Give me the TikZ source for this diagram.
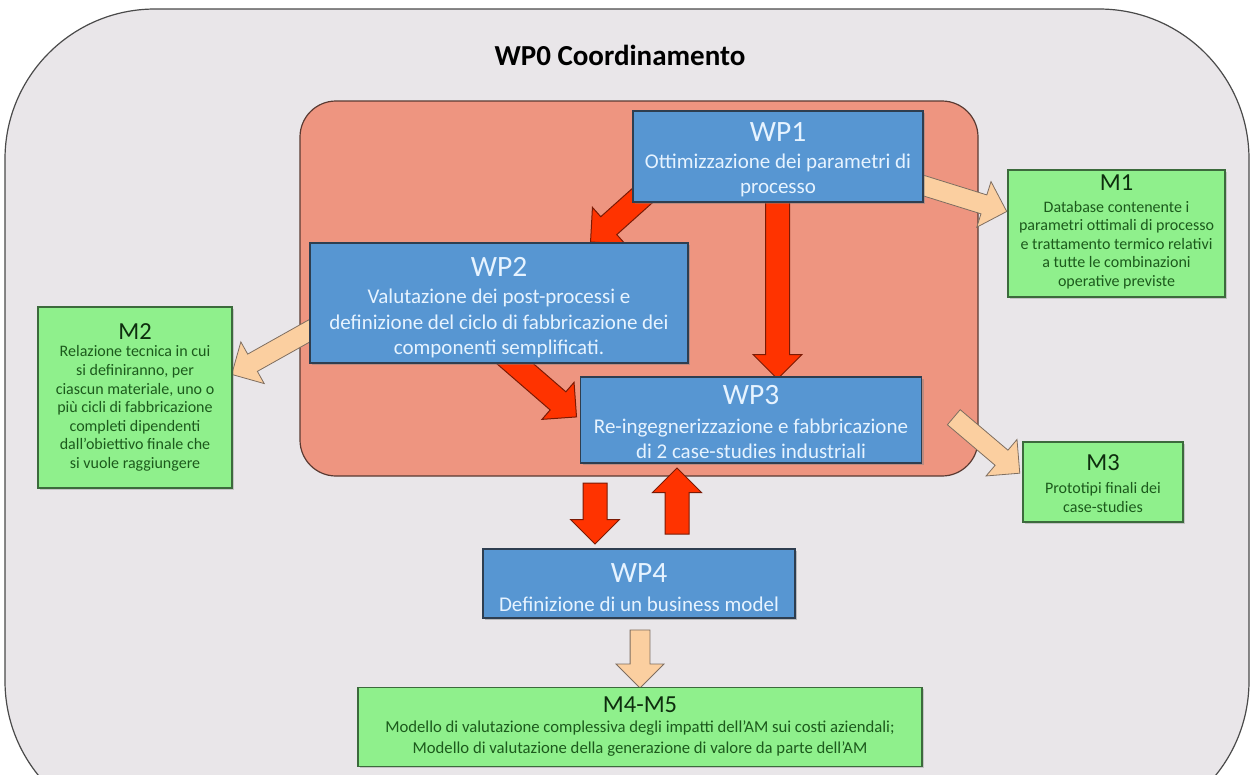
\documentclass[tikz,border=0pt]{standalone}
\usepackage{fontspec}
\setmainfont{Carlito}
\usetikzlibrary{shapes.arrows,shadows,calc}
\definecolor{bggray}{HTML}{E9E6E9}
\definecolor{bgborder}{HTML}{4A4A4A}
\definecolor{salmon}{HTML}{EE9580}
\definecolor{salmonb}{HTML}{5A3A32}
\definecolor{wpblue}{HTML}{5796D2}
\definecolor{wplight}{HTML}{86B6E4}
\definecolor{wpborder}{HTML}{2E3E50}
\definecolor{wptext}{HTML}{E6F3FF}
\definecolor{mgreen}{HTML}{8FF08C}
\definecolor{mborder}{HTML}{3C6A3C}
\definecolor{mtext}{HTML}{1C5A1C}
\definecolor{mtitle}{HTML}{0E2E0E}
\definecolor{redarr}{HTML}{FF3300}
\definecolor{redarrb}{HTML}{7A1A05}
\definecolor{peach}{HTML}{FBCFA0}
\definecolor{peachb}{HTML}{7E6E60}
\pgfdeclareverticalshading{wpshade}{100bp}{color(0bp)=(wpblue); color(78bp)=(wpblue); color(94bp)=(wplight); color(100bp)=(wplight)}
\newcommand\blockarrow[4]{%
  \path let \p1=(#2), \p2=(#3),
    \n1={atan2(\y2-\y1,\x2-\x1)}, \n2={veclen(\x2-\x1,\y2-\y1)} in
    node[#1, minimum height=\n2, rotate=\n1] (#4) at ({(\x1+\x2)/2},{(\y1+\y2)/2}) {};}
\tikzset{
  wpbox/.style={draw=wpborder, line width=1.2pt, shading=wpshade,
    drop shadow={shadow xshift=2pt, shadow yshift=-2pt, opacity=0.45}, inner sep=0pt, outer sep=0pt},
  mbox/.style={draw=mborder, line width=1.2pt, fill=mgreen,
    drop shadow={shadow xshift=1.5pt, shadow yshift=-1.5pt, opacity=0.35}, inner sep=0pt, outer sep=0pt},
  wptitle/.style={text=wptext, font=\fontsize{29.5}{32}\selectfont, inner sep=0pt},
  wpbody/.style={text=wptext, font=\fontsize{21}{25.5}\selectfont, align=center, inner sep=0pt},
  mtitlestyle/.style={text=mtitle, font=\fontsize{24.5}{27}\selectfont, inner sep=0pt},
  mbody/.style={text=mtext, font=\fontsize{16}{18.6}\selectfont, align=center, inner sep=0pt},
  redarrow/.style={single arrow, draw=redarrb, fill=redarr, line width=1pt, inner sep=0pt,
    inner ysep=11.5pt, single arrow head extend=12.5pt, outer sep=0pt},
  peacharrow/.style={single arrow, draw=peachb, fill=peach, line width=0.8pt, inner sep=0pt,
    inner ysep=9.5pt, single arrow head extend=14pt, outer sep=0pt},
}
\begin{document}
\begin{tikzpicture}[x=1pt,y=-1pt]
\useasboundingbox (0,0) rectangle (1253,774);
\begin{scope}
\clip (0,0) rectangle (1253,774);
% outer WP0 area
\node[draw=bgborder, line width=1.2pt, fill=bggray, rounded corners=150pt,
  minimum width=1244pt, minimum height=822pt, inner sep=0pt] (wp0) at (627,420) {};
\end{scope}
\node[font=\bfseries\fontsize{29}{32}\selectfont, text=black, inner sep=0pt] (title) at (620,55) {WP0 Coordinamento};
% inner salmon area
\node[draw=salmonb, line width=1.2pt, fill=salmon, rounded corners=36pt,
  minimum width=678pt, minimum height=375pt, inner sep=0pt] (core) at (639,288.5) {};
% arrow end points
\coordinate (r1s) at (662,178); \coordinate (r1e) at (595,238);
\coordinate (r2s) at (777.5,195); \coordinate (r2e) at (777.5,373);
\coordinate (r3s) at (497,348); \coordinate (r3e) at (572,413);
\coordinate (r4s) at (595,477); \coordinate (r4e) at (595,538);
\coordinate (r5s) at (677,540); \coordinate (r5e) at (677,474);
\coordinate (p1s) at (912,182); \coordinate (p1e) at (1002,210);
\coordinate (p2s) at (318,326); \coordinate (p2e) at (236,372);
\coordinate (p3s) at (950,414); \coordinate (p3e) at (1016,470);
\coordinate (p4s) at (640,625); \coordinate (p4e) at (640,683);
\blockarrow{redarrow}{r1s}{r1e}{a12}
\blockarrow{redarrow}{r2s}{r2e}{a13}
\blockarrow{redarrow}{r3s}{r3e}{a23}
\blockarrow{redarrow}{r4s}{r4e}{a34}
\blockarrow{redarrow}{r5s}{r5e}{a43}
\blockarrow{peacharrow}{p1s}{p1e}{am1}
\blockarrow{peacharrow}{p2s}{p2e}{am2}
\blockarrow{peacharrow}{p3s}{p3e}{am3}
\blockarrow{peacharrow}{p4s}{p4e}{am4}
% WP boxes
\node[wpbox, minimum width=290pt, minimum height=91pt] (wp1) at (778,156.5) {};
\node[wptitle] (wp1t) at (778,132) {WP1};
\node[wpbody] (wp1b) at (778,175.5) {Ottimizzazione dei parametri di\\processo};
\node[wpbox, minimum width=378pt, minimum height=120pt] (wp2) at (499,303) {};
\node[wptitle] (wp2t) at (499,267) {WP2};
\node[wpbody] (wp2b) at (499,323.5) {Valutazione dei post-processi e\\definizione del ciclo di fabbricazione dei\\componenti semplificati.};
\node[wpbox, minimum width=341pt, minimum height=86pt] (wp3) at (751,420) {};
\node[wptitle] (wp3t) at (751,395) {WP3};
\node[wpbody] (wp3b) at (751,439) {Re-ingegnerizzazione e fabbricazione\\di 2 case-studies industriali};
\node[wpbox, minimum width=312pt, minimum height=69pt] (wp4) at (639,583.5) {};
\node[wptitle] (wp4t) at (639,573) {WP4};
\node[wpbody] (wp4b) at (639,604) {Definizione di un business model};
% milestone boxes
\node[mbox, minimum width=217pt, minimum height=127pt] (m1) at (1116.5,233.5) {};
\node[mtitlestyle] (m1t) at (1116.5,183) {M1};
\node[mbody] (m1b) at (1116.5,245) {Database contenente i\\parametri ottimali di processo\\e trattamento termico relativi\\a tutte le combinazioni\\operative previste};
\node[mbox, minimum width=194pt, minimum height=181pt] (m2) at (135,397.5) {};
\node[mtitlestyle] (m2t) at (135,332) {M2};
\node[mbody] (m2b) at (135,408.5) {Relazione tecnica in cui\\si definiranno, per\\ciascun materiale, uno o\\più cicli di fabbricazione\\completi dipendenti\\dall’obiettivo finale che\\si vuole raggiungere};
\node[mbox, minimum width=160pt, minimum height=80pt] (m3) at (1103,482) {};
\node[mtitlestyle] (m3t) at (1103,463) {M3};
\node[mbody] (m3b) at (1103,497.5) {Prototipi finali dei\\case-studies};
\node[mbox, minimum width=564pt, minimum height=79pt] (m45) at (640,727) {};
\node[mtitlestyle] (m45t) at (640,705) {M4-M5};
\node[mbody, font=\fontsize{16.7}{21}\selectfont] (m45b) at (640,738.5) {Modello di valutazione complessiva degli impatti dell’AM sui costi aziendali;\\Modello di valutazione della generazione di valore da parte dell’AM};
\end{tikzpicture}
\end{document}
